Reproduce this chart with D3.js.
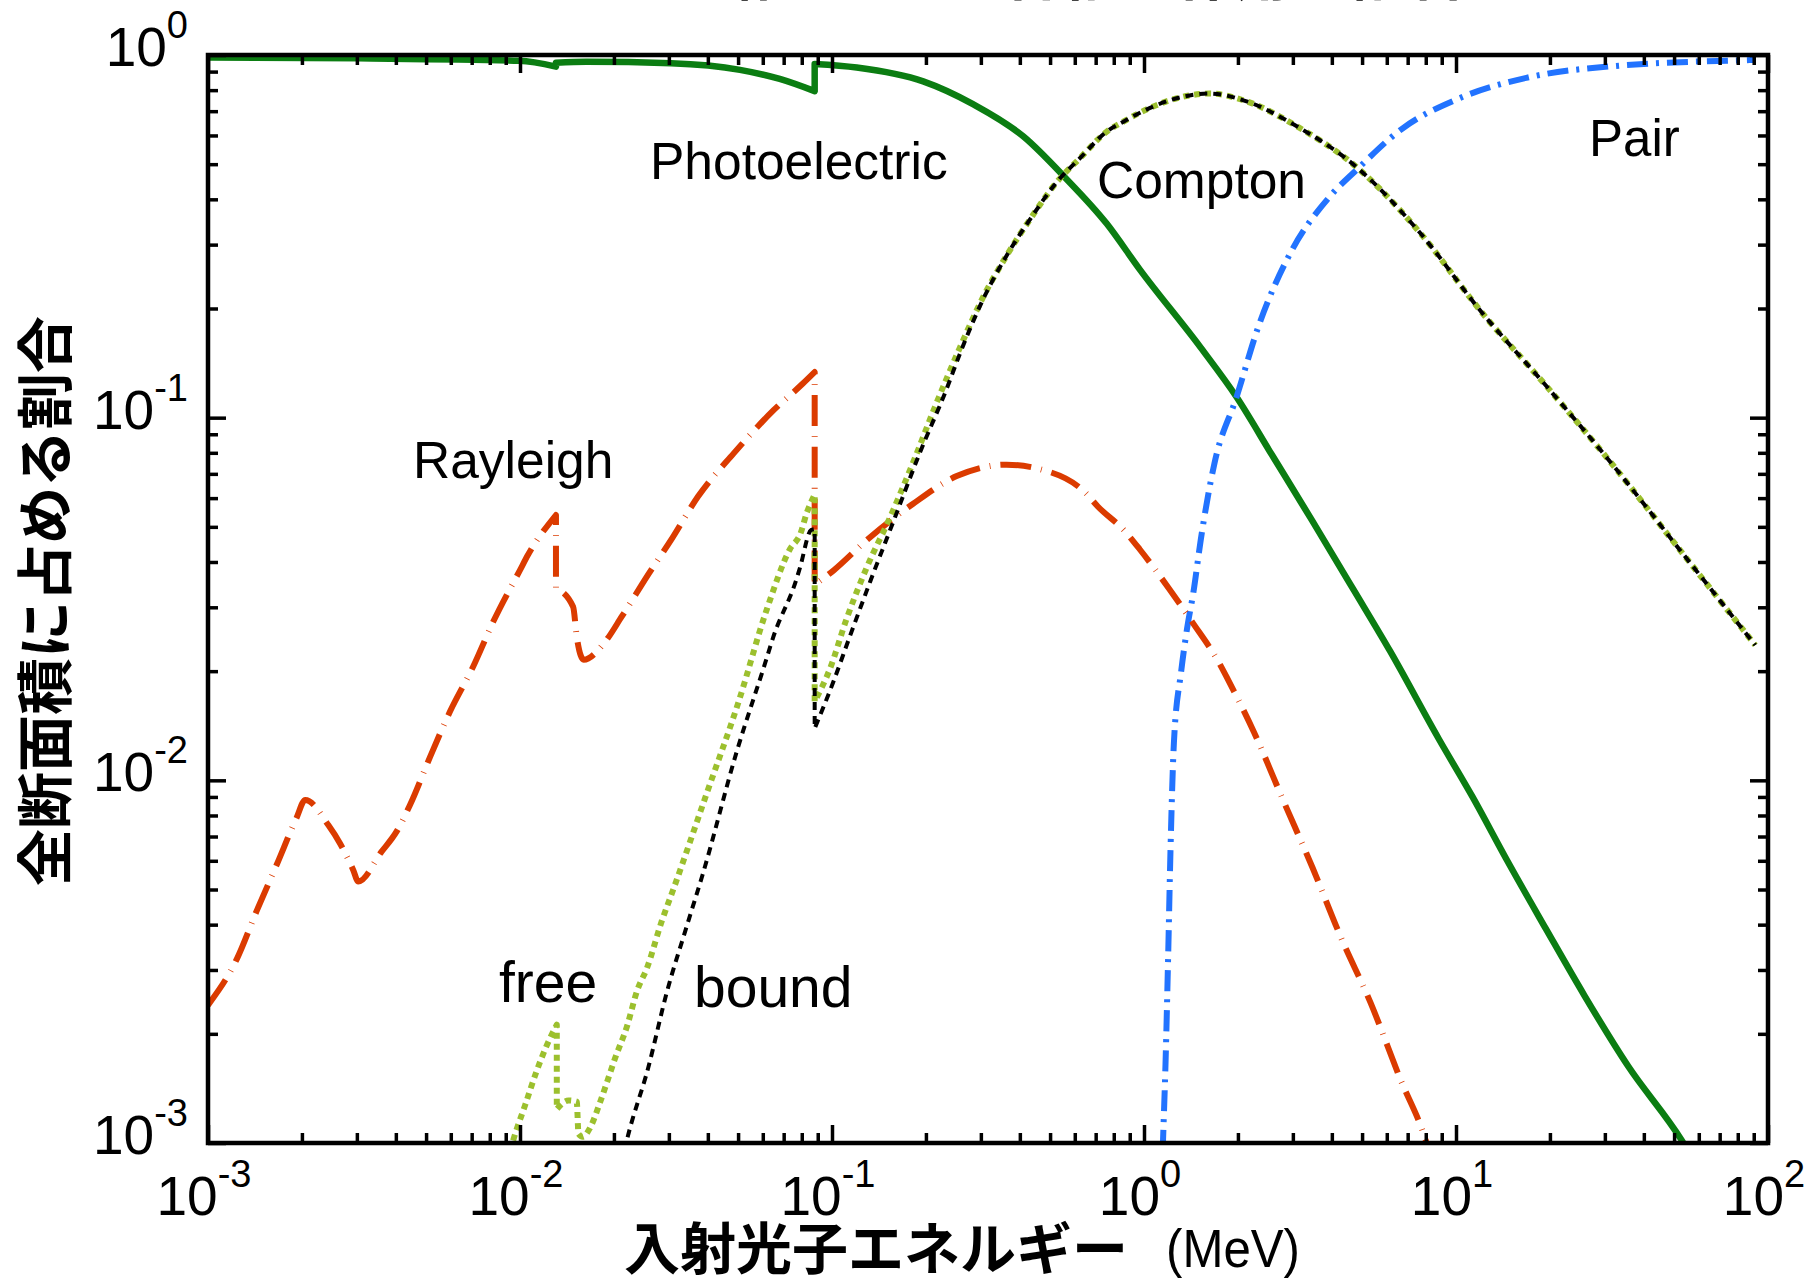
<!DOCTYPE html>
<html>
<head>
<meta charset="utf-8">
<script src="https://cdn.jsdelivr.net/npm/d3@7"></script>
<style>
body { margin: 0; background: #fff; }
svg { display: block; }
</style>
</head>
<body>
<svg width="1812" height="1283"></svg>
<script>
// Fractions of the total cross section for lead (energy in MeV)
const photoE = [0.001, 0.00304, 0.00995, 0.01304, 0.01304, 0.0163, 0.0305, 0.0507, 0.068, 0.088, 0.088, 0.120, 0.196, 0.284, 0.410, 0.559, 0.759, 0.97, 1.52, 1.98, 2.57, 3.46, 4.70, 6.15, 8.81, 11.3, 14.6, 19.4, 25.8, 35.6, 52.8, 60];
const photoF = [0.985, 0.979, 0.964, 0.929, 0.952, 0.958, 0.949, 0.910, 0.859, 0.795, 0.945, 0.924, 0.846, 0.731, 0.597, 0.459, 0.343, 0.256, 0.156, 0.114, 0.079, 0.052, 0.0335, 0.0227, 0.013, 0.009, 0.006, 0.0039, 0.00255, 0.00163, 0.00102, 0.00085];

const freeE = [0.0093, 0.00952, 0.01038, 0.01131, 0.01209, 0.01312, 0.01312, 0.01429, 0.0152, 0.0154, 0.0159, 0.01676, 0.01803, 0.01905, 0.02016, 0.0220, 0.02377, 0.0255, 0.02844, 0.0312, 0.0397, 0.0500, 0.0618, 0.0732, 0.0793, 0.0830, 0.088, 0.088, 0.0985, 0.1114, 0.129, 0.1535, 0.182, 0.2165, 0.257, 0.305, 0.363, 0.432, 0.525, 0.624, 0.76, 0.859, 0.957, 1.21, 1.62, 2.18, 3.03, 4.81, 7.63, 12.1, 19.2, 32.5, 53.3, 91];
const freeF = [0.00095, 0.00102, 0.00127, 0.00158, 0.00183, 0.00212, 0.00124, 0.00131, 0.0013, 0.00106, 0.00104, 0.0011, 0.00129, 0.00148, 0.00171, 0.00209, 0.00264, 0.00303, 0.00408, 0.00508, 0.00922, 0.0163, 0.0296, 0.0433, 0.048, 0.0546, 0.0614, 0.0165, 0.0203, 0.0279, 0.0385, 0.0531, 0.0753, 0.110, 0.156, 0.215, 0.280, 0.353, 0.446, 0.52, 0.615, 0.655, 0.689, 0.750, 0.783, 0.740, 0.642, 0.490, 0.325, 0.195, 0.124, 0.0724, 0.0422, 0.0236];

const boundE = [0.0216, 0.0219, 0.0258, 0.0295, 0.0342, 0.0385, 0.0495, 0.0610, 0.0649, 0.0768, 0.0789, 0.0857, 0.088, 0.088, 0.1008, 0.114, 0.1325, 0.157, 0.191, 0.233, 0.257, 0.305, 0.363, 0.432, 0.525, 0.624, 0.76, 0.859, 0.957, 1.21, 1.62, 2.18, 3.03, 4.81, 7.63, 12.1, 19.2, 32.5, 53.3, 91];
const boundF = [0.00095, 0.001, 0.00162, 0.00259, 0.00395, 0.0055, 0.0120, 0.021, 0.0249, 0.0357, 0.0385, 0.049, 0.0493, 0.0139, 0.0186, 0.0249, 0.0353, 0.0515, 0.0798, 0.120, 0.150, 0.212, 0.280, 0.353, 0.446, 0.52, 0.615, 0.655, 0.689, 0.750, 0.783, 0.740, 0.642, 0.490, 0.325, 0.195, 0.124, 0.0724, 0.0422, 0.0236];

const rayE = [0.001, 0.00124, 0.00143, 0.00166, 0.00192, 0.00205, 0.00243, 0.00265, 0.00292, 0.00303, 0.0036, 0.00402, 0.00444, 0.00515, 0.00597, 0.00708, 0.00821, 0.01, 0.0106, 0.01304, 0.01304, 0.0148, 0.0152, 0.016, 0.0186, 0.0212, 0.0259, 0.0305, 0.0372, 0.0484, 0.0651, 0.0805, 0.088, 0.088, 0.1015, 0.129, 0.182, 0.251, 0.363, 0.464, 0.65, 0.711, 0.867, 0.97, 1.205, 1.42, 1.75, 1.85, 2.25, 2.79, 3.47, 4.30, 5.33, 6.61, 8.05, 8.5];
const rayF = [0.0024, 0.00323, 0.00435, 0.00585, 0.00786, 0.00883, 0.00753, 0.0067, 0.00566, 0.00526, 0.00636, 0.00722, 0.00855, 0.0116, 0.0155, 0.0206, 0.0274, 0.038, 0.0418, 0.0539, 0.0339, 0.0301, 0.0249, 0.0215, 0.0239, 0.0283, 0.0372, 0.046, 0.0606, 0.0797, 0.105, 0.124, 0.1336, 0.0346, 0.038, 0.0459, 0.0579, 0.069, 0.0742, 0.0721, 0.062, 0.0569, 0.0487, 0.0433, 0.0337, 0.0275, 0.0209, 0.0191, 0.0136, 0.00883, 0.00574, 0.00365, 0.00243, 0.00151, 0.001, 0.00085];

const pairE = [1.148, 1.151, 1.172, 1.195, 1.216, 1.247, 1.316, 1.374, 1.44, 1.52, 1.68, 1.98, 2.33, 2.93, 3.95, 4.81, 6.68, 10.3, 16.8, 32.5, 87.3, 91];
const pairF = [0.00095, 0.00102, 0.00165, 0.00326, 0.00643, 0.0127, 0.020, 0.0262, 0.033, 0.046, 0.0745, 0.114, 0.179, 0.282, 0.408, 0.483, 0.624, 0.761, 0.865, 0.933, 0.968, 0.969];

const xMajor = [1e-3, 1e-2, 1e-1, 1, 10, 100];
const xExp = ['-3', '-2', '-1', '0', '1', '2'];
const yMajor = [1e-3, 1e-2, 1e-1, 1];
const yExp = ['-3', '-2', '-1', '0'];

const svg = d3.select('svg');
const L = 208, R = 1768, T = 55, B = 1143;
const x = d3.scaleLog().domain([1e-3, 1e2]).range([L, R]);
const y = d3.scaleLog().domain([1e-3, 1]).range([B, T]);

const font = '"Liberation Sans", Arial, Helvetica, sans-serif';
const jfont = '"Noto Sans CJK JP", "Noto Sans CJK SC", sans-serif';

function minors(lo, hi) {
  const out = [];
  for (let n = lo; n < hi; n++) for (let k = 2; k <= 9; k++) out.push(k * Math.pow(10, n));
  return out;
}

// clipped curves
svg.append('clipPath').attr('id', 'plot')
  .append('rect').attr('x', L).attr('y', T).attr('width', R - L).attr('height', B - T);

const line = d3.line().x(d => x(d[0])).y(d => y(d[1])).curve(d3.curveMonotoneX);

// smooth between absorption edges, straight vertical drop at each edge
function edgePath(E, F) {
  const pts = d3.zip(E, F);
  const segs = [];
  let cur = [pts[0]];
  for (let i = 1; i < pts.length; i++) {
    if (pts[i][0] === pts[i - 1][0]) { segs.push(cur); cur = [pts[i]]; }
    else cur.push(pts[i]);
  }
  segs.push(cur);
  return segs.map((s, i) => {
    const d = line(s).replace('Z', '');
    return i ? 'L' + d.slice(1) : d;
  }).join('');
}

const curves = svg.append('g').attr('clip-path', 'url(#plot)').attr('fill', 'none');

function curve(E, F, color, width, dash) {
  curves.append('path')
    .attr('d', edgePath(E, F))
    .attr('stroke', color)
    .attr('stroke-width', width)
    .attr('stroke-dasharray', dash)
    .attr('stroke-linejoin', 'round');
}

curve(photoE, photoF, '#0b7d12', 6.5, null);
curve(pairE, pairF, '#2273ff', 6, '21,8,3,8');
curve(rayE, rayF, '#db3b00', 6, '31,10,0.8,10');
curve(freeE, freeF, '#9cc02e', 6, '6,5');
curve(boundE, boundF, '#000', 4, '8,6');

// ticks on all four sides, pointing inward
function ticks(axisFn, scale, vals, size, tr) {
  svg.append('g').attr('transform', tr)
    .call(axisFn(scale).tickValues(vals).tickSize(size).tickFormat(''))
    .call(g => g.select('.domain').remove())
    .selectAll('line').attr('stroke', '#000').attr('stroke-width', 3.5);
}
ticks(d3.axisBottom, x, xMajor, -18, `translate(0,${B})`);
ticks(d3.axisBottom, x, minors(-3, 2), -10, `translate(0,${B})`);
ticks(d3.axisTop, x, xMajor, -18, `translate(0,${T})`);
ticks(d3.axisTop, x, minors(-3, 2), -10, `translate(0,${T})`);
ticks(d3.axisLeft, y, yMajor, -18, `translate(${L},0)`);
ticks(d3.axisLeft, y, minors(-3, 0), -10, `translate(${L},0)`);
ticks(d3.axisRight, y, yMajor, -18, `translate(${R},0)`);
ticks(d3.axisRight, y, minors(-3, 0), -10, `translate(${R},0)`);

svg.append('rect')
  .attr('x', L).attr('y', T).attr('width', R - L).attr('height', B - T)
  .attr('fill', 'none').attr('stroke', '#000').attr('stroke-width', 4.5);

// tick labels 10^n
function power(sel, e) {
  sel.append('tspan').text('10');
  sel.append('tspan').attr('font-size', 38).attr('dy', -28).text(e);
}
xMajor.forEach((v, i) => {
  svg.append('text')
    .attr('x', x(v) - 4).attr('y', 1215)
    .attr('text-anchor', 'middle')
    .attr('font-family', font).attr('font-size', 55)
    .call(power, xExp[i]);
});
yMajor.forEach((v, i) => {
  svg.append('text')
    .attr('x', 188).attr('y', y(v) + 11)
    .attr('text-anchor', 'end')
    .attr('font-family', font).attr('font-size', 55)
    .call(power, yExp[i]);
});

// curve labels
const labels = [
  ['Photoelectric', 650, 179, 51.5],
  ['Compton', 1097, 198, 51.5],
  ['Pair', 1589, 156, 51],
  ['Rayleigh', 413, 478, 51.5],
  ['free', 499, 1002, 57],
  ['bound', 694, 1007, 57]
];
labels.forEach(l => {
  svg.append('text')
    .attr('x', l[1]).attr('y', l[2])
    .attr('font-family', font).attr('font-size', l[3])
    .text(l[0]);
});

// axis titles
svg.append('text')
  .attr('x', 624).attr('y', 1269)
  .attr('font-family', jfont).attr('font-weight', 700).attr('font-size', 56)
  .text('入射光子エネルギー');
svg.append('text')
  .attr('x', 1166).attr('y', 1267)
  .attr('font-family', font).attr('font-size', 54)
  .attr('textLength', 134).attr('lengthAdjust', 'spacingAndGlyphs')
  .text('(MeV)');

svg.append('text')
  .attr('transform', 'translate(66,601) rotate(-90)')
  .attr('text-anchor', 'middle')
  .attr('font-family', jfont).attr('font-weight', 700).attr('font-size', 57)
  .text('全断面積に占める割合');

// title, cut off by the top edge of the picture
svg.append('text')
  .attr('x', 1090).attr('y', -5)
  .attr('text-anchor', 'middle')
  .attr('font-family', jfont).attr('font-weight', 700).attr('font-size', 58)
  .text('鉛における各相互作用の割合');
</script>
</body>
</html>
